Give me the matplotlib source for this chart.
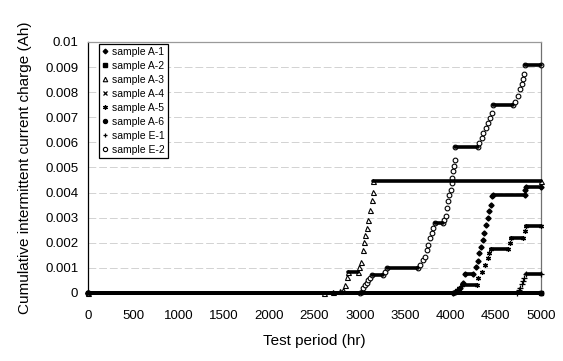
import numpy as np
import matplotlib.pyplot as plt

plt.rcParams['font.family'] = ['Liberation Sans', 'DejaVu Sans']

# test period (hr) and cumulative charge (Ah)
# consecutive points with the same value are plateaus (dense overlapping markers)
a1_hr = [0, 4030, 4050, 4080, 4110, 4140, 4160, 4250, 4280, 4300, 4320, 4340, 4355, 4375,
         4395, 4410, 4430, 4450, 4460, 4470, 4820, 4828, 4835, 5000]
a1_val = [0, 0, 0.00005, 0.0001, 0.0002, 0.0004, 0.00075, 0.00075, 0.00105, 0.00128, 0.00159,
          0.00185, 0.00212, 0.00239, 0.00272, 0.00299, 0.00325, 0.00352, 0.00385, 0.00392,
          0.00392, 0.0041, 0.00422, 0.00422]

a2_hr = [0, 5000]
a2_val = [0, 0]

a3_hr = [0, 2600, 2700, 2780, 2818, 2837, 2855, 2873, 2984, 2995, 3013, 3032, 3046, 3057,
         3076, 3094, 3113, 3131, 3142, 3150, 5000]
a3_val = [0, 0, 0.00003, 0.00008, 0.00012, 0.00032, 0.00065, 0.00085, 0.00085, 0.00105,
          0.00125, 0.00172, 0.00205, 0.00232, 0.00259, 0.00292, 0.00332, 0.00372, 0.00401,
          0.00445, 0.00445]

a4_hr = [0, 5000]
a4_val = [0, 0]

a5_hr = [0, 4040, 4070, 4100, 4125, 4290, 4310, 4345, 4385, 4410, 4430, 4450, 4640, 4660,
         4670, 4805, 4820, 4830, 5000]
a5_val = [0, 0, 0.0001, 0.0002, 0.00032, 0.00032, 0.00059, 0.00085, 0.00112, 0.00139,
          0.00159, 0.00176, 0.00176, 0.00199, 0.00221, 0.00221, 0.00245, 0.00265, 0.00265]

a6_hr = [0, 5000]
a6_val = [0, 0]

e1_hr = [0, 4740, 4755, 4770, 4785, 4800, 4815, 4830, 5000]
e1_val = [0, 0, 0.0001, 0.0002, 0.00035, 0.00048, 0.00059, 0.00076, 0.00076]

e2_hr = [0, 3000, 3020, 3039, 3058, 3076, 3095, 3113, 3131, 3260, 3280, 3297, 3646, 3665,
         3693, 3720, 3738, 3757, 3775, 3793, 3810, 3830, 3920, 3929, 3951, 3966, 3977, 3988,
         4003, 4014, 4021, 4032, 4040, 4048, 4055, 4308, 4319, 4345, 4363, 4393, 4419, 4437,
         4455, 4474, 4694, 4713, 4750, 4768, 4787, 4805, 4815, 4825, 5000]
e2_val = [0, 0, 0.00005, 0.00019, 0.0003, 0.00039, 0.0005, 0.00059, 0.00072, 0.00072,
          0.00085, 0.00099, 0.00099, 0.00112, 0.00132, 0.00145, 0.00172, 0.00192, 0.00219,
          0.00239, 0.0026, 0.00279, 0.00279, 0.00292, 0.00305, 0.00339, 0.00365, 0.00392,
          0.00412, 0.00439, 0.00459, 0.00485, 0.00505, 0.0053, 0.0058, 0.0058, 0.00599,
          0.00619, 0.00639, 0.00659, 0.00679, 0.00699, 0.00719, 0.0075, 0.0075, 0.00759,
          0.00785, 0.00812, 0.00832, 0.00852, 0.00872, 0.00908, 0.00908]

x_ticks = [0, 500, 1000, 1500, 2000, 2500, 3000, 3500, 4000, 4500, 5000]
y_ticks = [0, 0.001, 0.002, 0.003, 0.004, 0.005, 0.006, 0.007, 0.008, 0.009, 0.01]
y_tick_labels = ['0', '0.001', '0.002', '0.003', '0.004', '0.005', '0.006', '0.007',
                 '0.008', '0.009', '0.01']

series = [
    ('sample A-1', a1_hr, a1_val, dict(marker='D', ms=2.6, mfc='black', mec='black')),
    ('sample A-2', a2_hr, a2_val, dict(marker='s', ms=2.8, mfc='black', mec='black')),
    ('sample A-3', a3_hr, a3_val, dict(marker='^', ms=3.6, mfc='white', mec='black', mew=0.8)),
    ('sample A-4', a4_hr, a4_val, dict(marker='x', ms=3.2, mec='black', mew=0.9)),
    ('sample A-5', a5_hr, a5_val, dict(marker=(6, 2, 0), ms=3.6, mec='black', mew=0.9)),
    ('sample A-6', a6_hr, a6_val, dict(marker='o', ms=3.2, mfc='black', mec='black')),
    ('sample E-1', e1_hr, e1_val, dict(marker='+', ms=3.8, mec='black', mew=0.9)),
    ('sample E-2', e2_hr, e2_val, dict(marker='o', ms=3.4, mfc='white', mec='black', mew=0.8)),
]

fig = plt.figure(figsize=(5.63, 3.61), dpi=100)
ax = fig.add_axes([0.1563, 0.1884, 0.8046, 0.6953])

for label, hr, val, style in series:
    hr = np.array(hr)
    val = np.array(val)
    # plateaus: markers overlap into a solid thick line
    for i in np.flatnonzero(np.diff(val) == 0):
        ax.plot(hr[i:i + 2], val[i:i + 2], color='black', lw=2.6,
                solid_capstyle='round', clip_on=False, zorder=5)
    ax.plot(hr, val, linestyle='none', label=label, clip_on=False, zorder=4, **style)

ax.set_xlim(0, 5000)
ax.set_ylim(0, 0.01)
ax.set_xticks(x_ticks)
ax.set_yticks(y_ticks)
ax.set_yticklabels(y_tick_labels)
ax.tick_params(axis='both', length=0, labelsize=9.5, colors='black')
ax.tick_params(axis='x', pad=12)
ax.tick_params(axis='y', pad=7)

ax.grid(axis='y', color='#d2d2d2', lw=0.7, linestyle=(0, (8, 3)))
ax.set_axisbelow(True)

ax.spines['left'].set_color('black')
ax.spines['bottom'].set_color('black')
ax.spines['top'].set_color('#9a9a9a')
ax.spines['right'].set_color('#707070')
for s in ax.spines.values():
    s.set_linewidth(0.9)

ax.set_xlabel('Test period (hr)', fontsize=11)
ax.set_ylabel('Cumulative intermittent current charge (Ah)', fontsize=11)
ax.xaxis.set_label_coords(0.5, -0.165)
ax.yaxis.set_label_coords(-0.124, 0.5)

leg = ax.legend(loc='upper left', bbox_to_anchor=(0.024, 0.992), borderaxespad=0,
                fontsize=7.5, handlelength=0.6, handletextpad=0.35, labelspacing=0.38,
                borderpad=0.3, fancybox=False, framealpha=1, edgecolor='black',
                markerscale=0.9)
leg.get_frame().set_linewidth(0.9)
leg.set_zorder(10)

fig.savefig('out.png', dpi=100)
